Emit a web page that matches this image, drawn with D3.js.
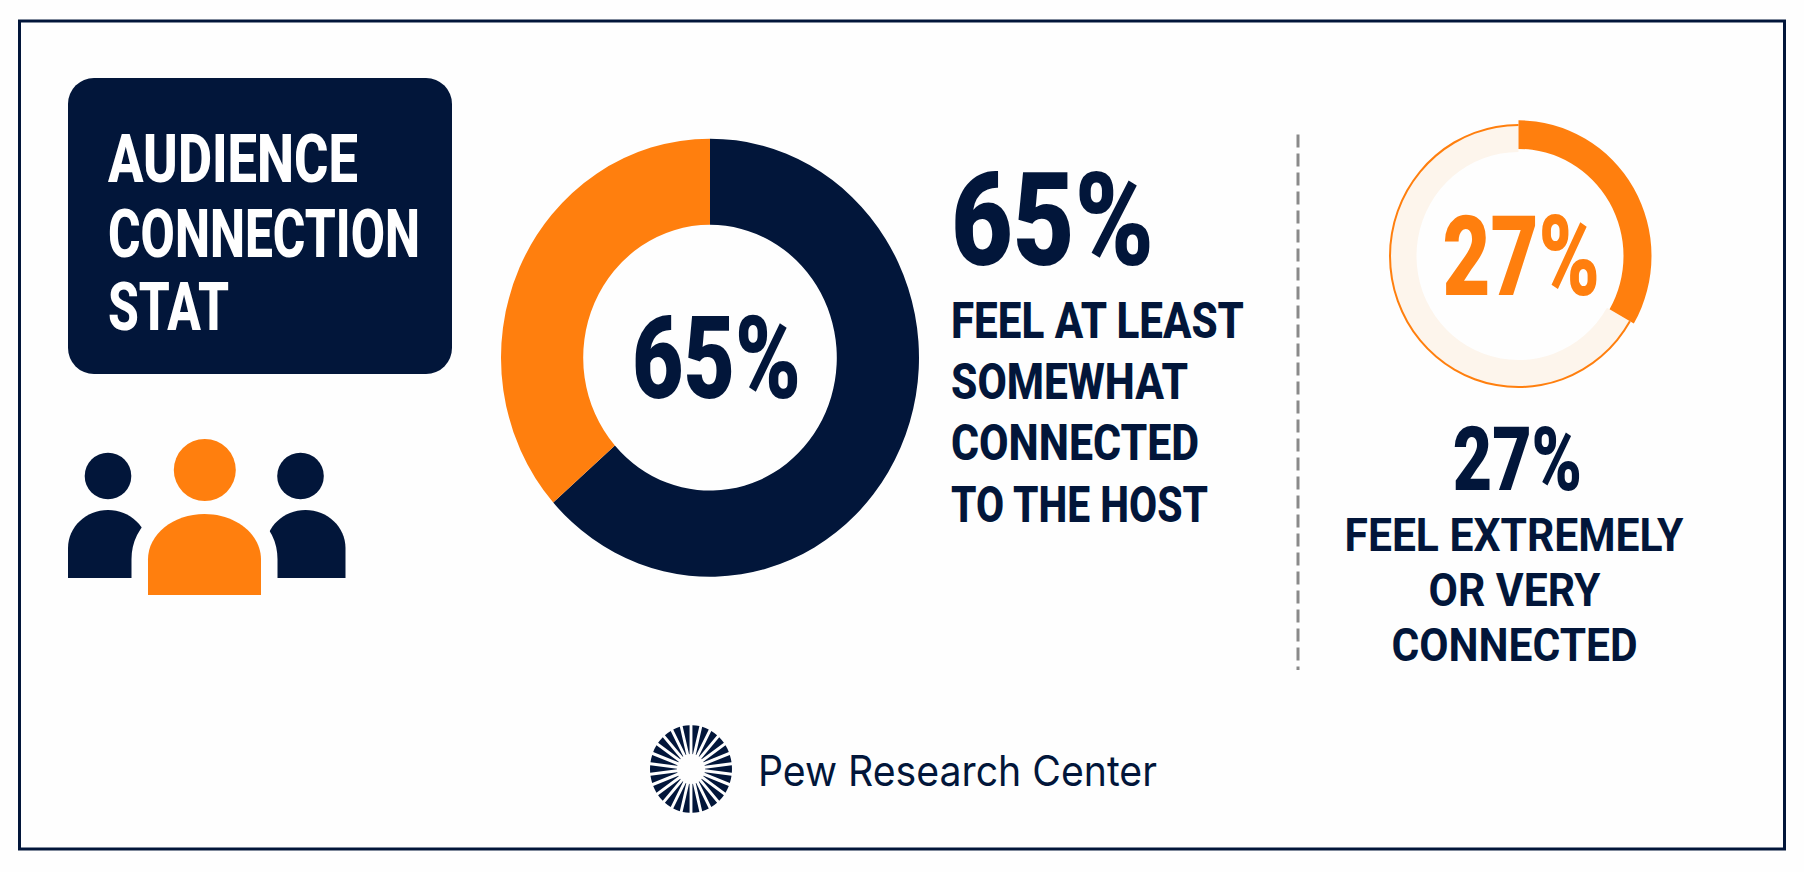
<!DOCTYPE html>
<html>
<head>
<meta charset="utf-8">
<title>Audience connection stat</title>
<script src="https://cdn.jsdelivr.net/npm/d3@7"></script>
<style>
  html, body { margin: 0; padding: 0; background: #fff; }
  svg { display: block; }
  text { font-family: Roboto, "Liberation Sans", sans-serif; }
</style>
</head>
<body>
<div id="chart"></div>
<script>
'use strict';

// shares as drawn in the picture (the arcs do not land exactly on the printed numbers)
var mainCategories = ['At least somewhat connected', 'Other'];
var mainShares = [63.5, 36.5];
var sideCategories = ['Extremely or very connected', 'Other'];
var sideShares = [33.3, 66.7];

var mainStat = '65%';
var sideStat = '27%';
var titleLines = ['AUDIENCE', 'CONNECTION', 'STAT'];
var mainLines = ['FEEL AT LEAST', 'SOMEWHAT', 'CONNECTED', 'TO THE HOST'];
var sideLines = ['FEEL EXTREMELY', 'OR VERY', 'CONNECTED'];
var sourceName = 'Pew Research Center';
var logoSpokes = d3.range(26);

var navy = '#02163a';
var orange = '#ff7f0e';
var pale = '#fdf5ec';

var svg = d3.select('#chart').append('svg')
    .attr('width', 1804)
    .attr('height', 872);

svg.append('rect')
    .attr('width', 1804)
    .attr('height', 872)
    .attr('fill', '#fefefe');

svg.append('rect')
    .attr('x', 19.5)
    .attr('y', 21)
    .attr('width', 1765)
    .attr('height', 828)
    .attr('fill', 'none')
    .attr('stroke', navy)
    .attr('stroke-width', 3);

// text is squeezed to the measured width, the reference type is condensed
function label(g, txt, x, y, size, width, color, weight) {
    return g.append('text')
        .attr('x', x)
        .attr('y', y)
        .attr('font-size', size)
        .attr('font-weight', weight || 800)
        .attr('fill', color)
        .attr('textLength', width)
        .attr('lengthAdjust', 'spacingAndGlyphs')
        .text(txt);
}

// title box
svg.append('rect')
    .attr('x', 68)
    .attr('y', 78)
    .attr('width', 384)
    .attr('height', 296)
    .attr('rx', 26)
    .attr('fill', navy);

var titleWidths = [250, 312, 121];
var titleBase = [182, 256.5, 330];
titleLines.forEach(function(d, i) {
    label(svg, d, 108, titleBase[i], 67, titleWidths[i], '#fff');
});

// people icon
function personBody(cx, halfWidth, top, bottom) {
    var p = d3.path();
    var dome = (bottom - top) * 0.56;
    var k = 0.5523;
    var shoulder = top + dome;
    p.moveTo(cx - halfWidth, bottom);
    p.lineTo(cx - halfWidth, shoulder);
    p.bezierCurveTo(cx - halfWidth, shoulder - dome * k, cx - halfWidth * k, top, cx, top);
    p.bezierCurveTo(cx + halfWidth * k, top, cx + halfWidth, shoulder - dome * k, cx + halfWidth, shoulder);
    p.lineTo(cx + halfWidth, bottom);
    p.closePath();
    return p.toString();
}

var icon = svg.append('g');
[108, 300.5].forEach(function(cx) {
    icon.append('circle').attr('cx', cx).attr('cy', 476).attr('r', 23.3).attr('fill', navy);
    icon.append('path').attr('d', personBody(cx > 200 ? 305.5 : 108, 40, 510, 578)).attr('fill', navy);
});
icon.append('path')
    .attr('d', personBody(204.5, 56.5, 514, 595))
    .attr('fill', orange)
    .attr('stroke', '#fefefe')
    .attr('stroke-width', 33)
    .attr('paint-order', 'stroke');
icon.append('circle').attr('cx', 204.8).attr('cy', 470).attr('r', 31).attr('fill', orange);

// main donut, the reference is slightly taller than wide
var pie = d3.pie().sort(null).value(function(d) { return d; });
var mainColor = d3.scaleOrdinal().domain(mainCategories).range([navy, orange]);
var mainArc = d3.arc().innerRadius(126.8).outerRadius(209);

var mainG = svg.append('g')
    .attr('transform', 'translate(710,357.7) scale(1,1.048)');

mainG.selectAll('path')
    .data(pie(mainShares))
    .join('path')
    .attr('d', mainArc)
    .attr('fill', function(d, i) { return mainColor(mainCategories[i]); });

label(svg, mainStat, 632, 398, 115, 169, navy, 900);
label(svg, mainStat, 951, 265, 129, 203, navy, 900);

var mainWidths = [293, 237, 248, 257];
var mainBase = [337.5, 399, 460, 521.5];
mainLines.forEach(function(d, i) {
    label(svg, d, 951, mainBase[i], 50, mainWidths[i], navy);
});

// divider
svg.append('line')
    .attr('x1', 1298)
    .attr('x2', 1298)
    .attr('y1', 134.5)
    .attr('y2', 670)
    .attr('stroke', '#8a8a8a')
    .attr('stroke-width', 3)
    .attr('stroke-dasharray', '13 6');

// small ring
var sideG = svg.append('g')
    .attr('transform', 'translate(1518.5,256) scale(1,1.02)');
var sideSlices = pie(sideShares);

sideG.append('path')
    .datum(sideSlices[1])
    .attr('d', d3.arc().innerRadius(102).outerRadius(129))
    .attr('fill', pale);
sideG.append('path')
    .datum(sideSlices[1])
    .attr('d', d3.arc().innerRadius(127.5).outerRadius(129.5))
    .attr('fill', orange);
sideG.append('path')
    .datum(sideSlices[0])
    .attr('d', d3.arc().innerRadius(105).outerRadius(133))
    .attr('fill', orange);

label(svg, sideStat, 1442.5, 295, 112, 157.5, orange, 900);
label(svg, sideStat, 1452.7, 490, 89, 129.5, navy, 900);

var sideX = [1344.5, 1428.5, 1391.5];
var sideWidths = [339, 172, 246];
var sideBase = [551, 606, 661.4];
sideLines.forEach(function(d, i) {
    label(svg, d, sideX[i], sideBase[i], 46, sideWidths[i], navy, 700);
});

// footer logo and name
var spokeArc = d3.arc()
    .innerRadius(14)
    .outerRadius(41)
    .padAngle(0.07)
    .padRadius(41);

svg.append('g')
    .attr('transform', 'translate(691,769) scale(1,1.07)')
    .selectAll('path')
    .data(pie(logoSpokes.map(function() { return 1; })))
    .join('path')
    .attr('d', spokeArc)
    .attr('fill', navy);

label(svg, sourceName, 758, 785.5, 42, 399, navy, 400)
    .style('font-family', 'Inter, "Noto Sans", sans-serif');
</script>
</body>
</html>
